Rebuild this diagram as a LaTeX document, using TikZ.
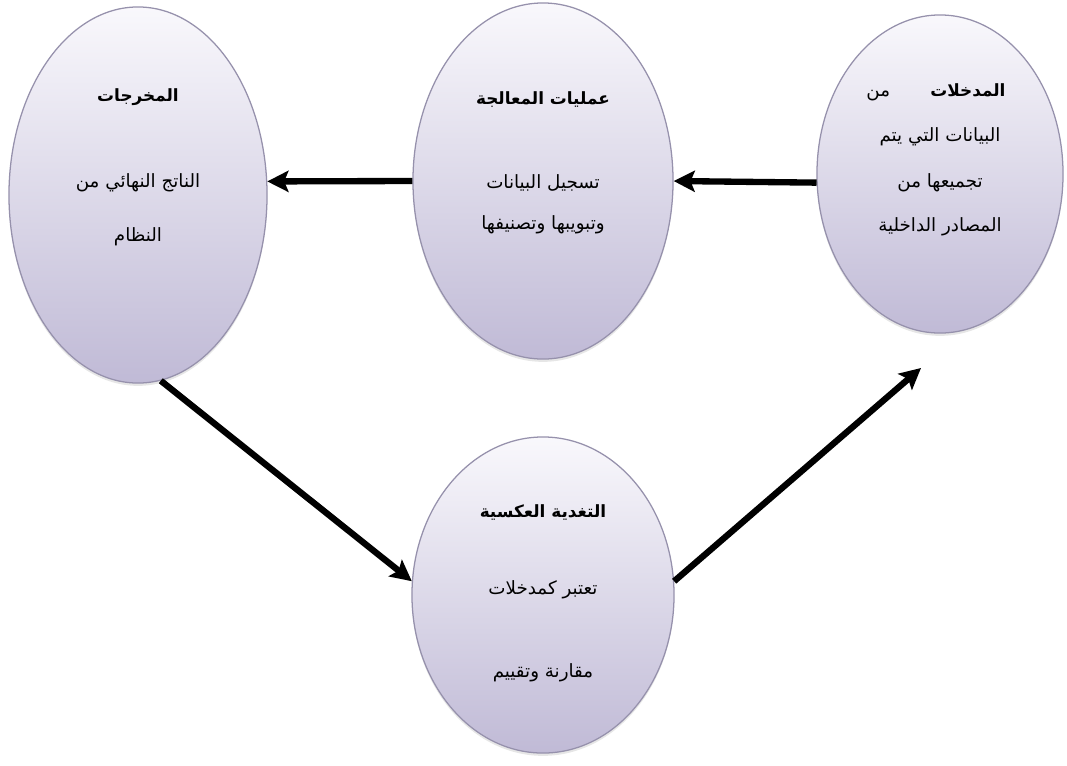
\documentclass[tikz,border=0pt]{standalone}
\usepackage{fontspec}
\usepackage{tikz}
\usetikzlibrary{arrows.meta,shapes.geometric,shadows}
\newfontfamily\arabicfont[Script=Arabic]{DejaVu Sans}
\TeXXeTstate=1
\definecolor{lavtop}{RGB}{249,248,252}
\definecolor{lavbot}{RGB}{192,186,214}
\definecolor{lavline}{RGB}{150,145,172}
\newcommand{\artxt}[1]{\beginR #1\endR}

\begin{document}
\begin{tikzpicture}[x=0.025cm,y=-0.025cm,>={Stealth[length=15pt,width=15pt,inset=3pt]},
  bubble/.style={shape=ellipse,draw=lavline,line width=0.9pt,top color=lavtop,bottom color=lavbot,inner sep=0pt,
    drop shadow={opacity=0.2,shadow xshift=0pt,shadow yshift=-2pt}},
  head/.style={font=\arabicfont\bfseries\fontsize{12}{14}\selectfont},
  txt/.style={font=\arabicfont\fontsize{13}{15}\selectfont},
  arr/.style={->,line width=4.5pt}]
\useasboundingbox (0,0) rectangle (1067,765);
\node[bubble,minimum width=6.45cm,minimum height=9.4cm] (outp) at (138,195) {};
\node[bubble,minimum width=6.5cm,minimum height=8.9cm] (proc) at (543,181) {};
\node[bubble,minimum width=6.15cm,minimum height=7.95cm] (inp) at (940,174) {};
\node[bubble,minimum width=6.55cm,minimum height=7.9cm] (fb) at (543,595) {};
% outputs
\node[head] (outh) at (138,97) {\artxt{المخرجات}};
\node[txt] (out1) at (138,183) {\artxt{الناتج النهائي من}};
\node[txt] (out2) at (138,237) {\artxt{النظام}};
% processing
\node[head] (proch) at (543,100) {\artxt{عمليات المعالجة}};
\node[txt] (proc1) at (543,183) {\artxt{تسجيل البيانات}};
\node[txt] (proc2) at (543,225) {\artxt{وتبويبها وتصنيفها}};
% inputs
\node[txt] (inh) at (936,92) {\artxt{{\bfseries\fontsize{12}{14}\selectfont المدخلات}\hspace{2.2em}من}};
\node[txt] (in1) at (940,137) {\artxt{البيانات التي يتم}};
\node[txt] (in2) at (940,183) {\artxt{تجميعها من}};
\node[txt] (in3) at (940,227) {\artxt{المصادر الداخلية}};
% feedback
\node[head] (fbh) at (543,512) {\artxt{التغدية العكسية}};
\node[txt] (fb1) at (543,590) {\artxt{تعتبر كمدخلات}};
\node[txt] (fb2) at (543,673) {\artxt{مقارنة وتقييم}};
\coordinate (inend) at (921,368);
\draw[arr] (inp.184) -- (proc.east);
\draw[arr] (proc.west) -- (outp.6);
\draw[arr] (outp.-83) -- (fb.174);
\draw[arr] (fb.6) -- (inend);
\end{tikzpicture}
\end{document}
